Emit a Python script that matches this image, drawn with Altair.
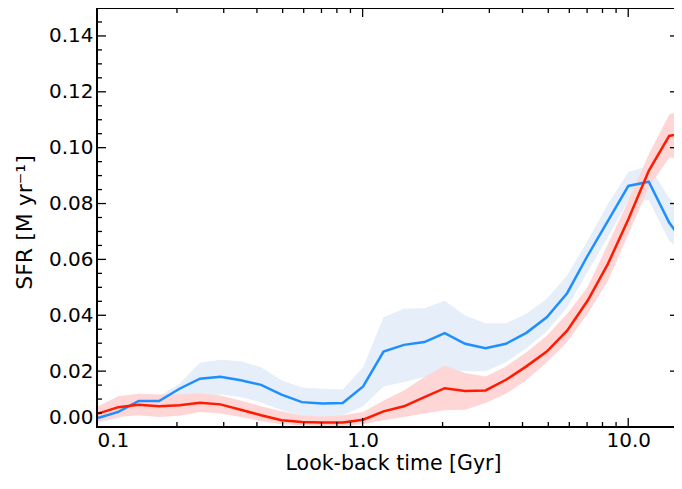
import altair as alt
import pandas as pd

# Look-back time bins [Gyr]
lookback = [0.1008, 0.1203, 0.1435, 0.1713, 0.2045, 0.2440, 0.2912, 0.3476, 0.4148, 0.4951,
            0.5909, 0.7052, 0.8416, 1.0045, 1.199, 1.431, 1.708, 2.038, 2.432, 2.903,
            3.465, 4.135, 4.934, 5.888, 7.028, 8.387, 10.01, 11.95, 14.26, 17.02]

blue_mid = [0.0032, 0.0054, 0.0093, 0.0093, 0.0137, 0.0173, 0.0180, 0.0167, 0.0151, 0.0116,
            0.0089, 0.0084, 0.0086, 0.0145, 0.0270, 0.0294, 0.0304, 0.0336, 0.0298, 0.0282,
            0.0298, 0.0337, 0.0393, 0.0479, 0.0613, 0.0738, 0.0863, 0.0878, 0.0732, 0.0631]
blue_hi = [0.0050, 0.0085, 0.0112, 0.0110, 0.0155, 0.0230, 0.0241, 0.0235, 0.0214, 0.0167,
           0.0141, 0.0137, 0.0134, 0.0214, 0.0393, 0.0423, 0.0425, 0.0452, 0.0399, 0.0371,
           0.0371, 0.0405, 0.0459, 0.0542, 0.0667, 0.0798, 0.0913, 0.0935, 0.0821, 0.0739]
blue_lo = [0.0015, 0.0030, 0.0065, 0.0068, 0.0078, 0.0107, 0.0116, 0.0107, 0.0089, 0.0060,
           0.0042, 0.0036, 0.0042, 0.0074, 0.0145, 0.0161, 0.0179, 0.0205, 0.0200, 0.0200,
           0.0232, 0.0282, 0.0342, 0.0428, 0.0555, 0.0680, 0.0810, 0.0812, 0.0667, 0.0602]

red_mid = [0.0048, 0.0071, 0.0080, 0.0074, 0.0078, 0.0087, 0.0081, 0.0062, 0.0042, 0.0024,
           0.0018, 0.0016, 0.0016, 0.0026, 0.0056, 0.0074, 0.0107, 0.0139, 0.0129, 0.0131,
           0.0169, 0.0217, 0.0270, 0.0345, 0.0452, 0.0584, 0.0744, 0.0917, 0.1042, 0.1056]
red_hi = [0.0074, 0.0110, 0.0119, 0.0116, 0.0117, 0.0121, 0.0113, 0.0095, 0.0074, 0.0056,
          0.0042, 0.0038, 0.0042, 0.0054, 0.0095, 0.0131, 0.0179, 0.0220, 0.0193, 0.0181,
          0.0217, 0.0268, 0.0327, 0.0405, 0.0500, 0.0655, 0.0810, 0.0976, 0.1119, 0.1145]
red_lo = [0.0021, 0.0036, 0.0042, 0.0036, 0.0040, 0.0054, 0.0048, 0.0036, 0.0021, 0.0010,
          0.0006, 0.0004, 0.0004, 0.0010, 0.0024, 0.0036, 0.0048, 0.0060, 0.0062, 0.0086,
          0.0119, 0.0167, 0.0232, 0.0304, 0.0405, 0.0524, 0.0690, 0.0857, 0.0964, 0.0964]

x_labels = [0.1, 1.0, 10.0]
x_major = [1.0, 10.0]
x_minor = [0.2, 0.3, 0.4, 0.5, 0.6, 0.7, 0.8, 0.9, 2, 3, 4, 5, 6, 7, 8, 9]
y_major = [0.0, 0.02, 0.04, 0.06, 0.08, 0.10, 0.12, 0.14]
y_minor = [0.005, 0.01, 0.015, 0.025, 0.03, 0.035, 0.045, 0.05, 0.055, 0.065, 0.07, 0.075,
           0.085, 0.09, 0.095, 0.105, 0.11, 0.115, 0.125, 0.13, 0.135, 0.145]

W, H = 577, 419
FONT = "DejaVu Sans"
MAJ, MIN = 9, 5

df = pd.DataFrame({"t": lookback, "bm": blue_mid, "bh": blue_hi, "bl": blue_lo,
                   "rm": red_mid, "rh": red_hi, "rl": red_lo})

xs = alt.Scale(type="log", domain=[0.1, 14.87], nice=False)
ys = alt.Scale(domain=[0, 0.15], nice=False, zero=False)

x_axis = alt.Axis(values=x_labels, format=".1f", ticks=False, domain=False, grid=False,
                  labelFlush=True, labelFont=FONT, labelFontSize=20, labelColor="black",
                  labelPadding=3, title="Look-back time [Gyr]", titleFont=FONT,
                  titleFontSize=20.5, titleFontWeight="normal", titleColor="black",
                  titlePadding=3, titleX=296, titleAlign="center")
y_axis = alt.Axis(values=y_major, format=".2f", ticks=False, domain=False, grid=False,
                  labelFlush=True, labelFont=FONT, labelFontSize=20, labelColor="black",
                  labelPadding=4, title="SFR [M yr⁻¹]", titleFont=FONT,
                  titleFontSize=22, titleFontWeight="normal", titleColor="black",
                  titlePadding=12, titleY=214, titleAlign="center")

def X(field):
    return alt.X(field, scale=xs, axis=x_axis)

def Y(field):
    return alt.Y(field, scale=ys, axis=y_axis)

base = alt.Chart(df)
blue_band = base.mark_area(color="#e5eef9", clip=True).encode(
    x=X("t:Q"), y=Y("bl:Q"), y2="bh:Q")
red_band = base.mark_area(color="#ffd6d6", clip=True).encode(
    x=X("t:Q"), y=Y("rl:Q"), y2="rh:Q")
blue_line = base.mark_line(color="#1e8fff", strokeWidth=2.5, clip=True).encode(
    x=X("t:Q"), y=Y("bm:Q"))
red_line = base.mark_line(color="#ff1a00", strokeWidth=2.5, clip=True).encode(
    x=X("t:Q"), y=Y("rm:Q"))

xmaj = alt.Chart(pd.DataFrame({"v": x_major}))
xmin = alt.Chart(pd.DataFrame({"v": x_minor}))
ymaj = alt.Chart(pd.DataFrame({"v": y_major}))
ymin = alt.Chart(pd.DataFrame({"v": y_minor}))
one = alt.Chart(pd.DataFrame({"k": [0]}))

def xticks(src, length):
    bottom = src.mark_rule(color="black", strokeWidth=1.3).encode(
        x=X("v:Q"), y=alt.value(H), y2=alt.value(H - length))
    top = src.mark_rule(color="black", strokeWidth=1.3).encode(
        x=X("v:Q"), y=alt.value(0), y2=alt.value(length))
    return [bottom, top]

def yticks(src, length, right_len):
    left = src.mark_rule(color="black", strokeWidth=1.3).encode(
        y=Y("v:Q"), x=alt.value(0), x2=alt.value(length))
    out = [left]
    if right_len > 0:
        out.append(src.mark_rule(color="black", strokeWidth=1.3).encode(
            y=Y("v:Q"), x=alt.value(W), x2=alt.value(W - right_len)))
    return out

spines = [
    one.mark_rule(color="black", strokeWidth=2).encode(
        x=alt.value(0), y=alt.value(-1), y2=alt.value(H + 1)),
    one.mark_rule(color="black", strokeWidth=2).encode(
        x=alt.value(0), x2=alt.value(W), y=alt.value(0)),
    one.mark_rule(color="black", strokeWidth=2).encode(
        x=alt.value(0), x2=alt.value(W), y=alt.value(H)),
]

layers = [blue_band, red_band, blue_line, red_line]
layers += xticks(xmaj, MAJ) + xticks(xmin, MIN) + yticks(ymaj, MAJ, 4) + yticks(ymin, MIN, 0)
layers += spines

chart = alt.layer(*layers).properties(
    width=W, height=H,
    autosize=alt.AutoSizeParams(type="none"),
    padding={"left": 89, "top": 0, "right": 0, "bottom": 50},
    background="white",
).configure_view(stroke=None)

chart.save("out.html", embed_options={"renderer": "svg", "actions": False})
